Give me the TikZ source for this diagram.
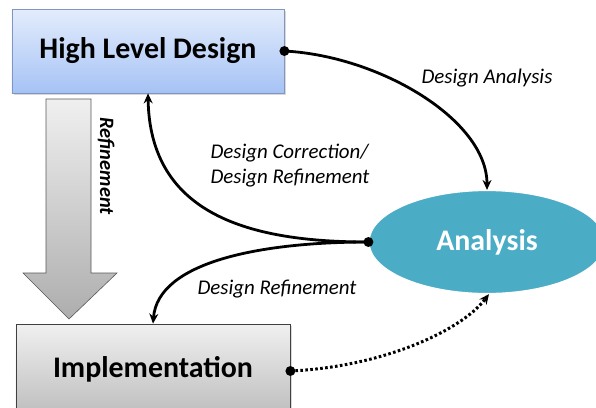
\documentclass[tikz,border=0pt]{standalone}
\usepackage{fontspec}
\setmainfont{Carlito}
\usetikzlibrary{arrows.meta,shadows,shapes.geometric}
\definecolor{hldtop}{HTML}{E3ECFC}
\definecolor{hldbot}{HTML}{A6C3F5}
\definecolor{hldborder}{HTML}{8096C0}
\definecolor{imptop}{HTML}{F0F0F0}
\definecolor{impbot}{HTML}{BEBEBE}
\definecolor{anafill}{HTML}{4BACC6}
\tikzset{
  boxnode/.style={draw, line width=0.8pt, font=\fontsize{30}{34}\selectfont\bfseries, align=center, drop shadow={opacity=0.3, shadow xshift=2pt, shadow yshift=-2pt}},
  conn/.style={line width=2.8pt, -{Stealth[length=10pt,width=9pt]}},
  dotconn/.style={line width=3pt, dash pattern=on 2.6pt off 2.4pt, -{Stealth[length=10pt,width=9pt]}},
  lbl/.style={font=\fontsize{21}{25}\selectfont\itshape, align=left},
  enddot/.style={circle, fill=black, inner sep=0pt, minimum size=10pt}
}
\begin{document}
\begin{tikzpicture}[x=1bp,y=-1bp]
\useasboundingbox (0,0) rectangle (596,407);
% big refinement arrow
\path[draw=gray!70!black, line width=0.6pt, top color=white!94!black, bottom color=white!68!black]
  (46,99) -- (91,99) -- (91,273) -- (117,273) -- (69,319) -- (23,273) -- (46,273) -- cycle;
\node[font=\fontsize{20.5}{24}\selectfont\itshape\bfseries, rotate=-90] (reftxt) at (106,166) {Refinement};
% boxes
\node[boxnode, draw=hldborder, top color=hldtop, bottom color=hldbot, minimum width=272bp, minimum height=84bp] (hld) at (148,51) {High Level Design};
\node[boxnode, draw=black!75, top color=imptop, bottom color=impbot, minimum width=274bp, minimum height=90bp] (impl) at (153,369) {Implementation};
\node[ellipse, draw=white, line width=1.2pt, fill=anafill, minimum width=236bp, minimum height=103bp, text=white, font=\fontsize{30}{34}\selectfont\bfseries] (ana) at (487,242) {Analysis};
% anchors
\coordinate (hldR) at (hld.east);
\coordinate (anaT) at (ana.north);
\coordinate (anaL) at (ana.west);
\coordinate (anaB) at ([xshift=2bp]ana.south);
\coordinate (hldB) at (hld.south);
\coordinate (implT) at (impl.north);
\coordinate (implR) at ([yshift=-2bp]impl.east);
% connectors
\draw[conn] (hldR) .. controls (380,56) and (487,120) .. (anaT);
\draw[conn] (anaL) .. controls (250,242) and (150,215) .. (hldB);
\draw[conn] (anaL) .. controls (260,242) and (158,262) .. (implT);
\draw[dotconn] (implR) .. controls (380,367) and (460,332) .. (anaB);
\node[enddot] (d1) at (hldR) {};
\node[enddot] (d2) at (anaL) {};
\node[enddot] (d3) at (implR) {};
% labels
\node[lbl] (l1) at (487,78) {Design Analysis};
\node[lbl, anchor=north west] (l2) at (207,141) {Design Correction/\\Design Refinement};
\node[lbl] (l3) at (277,289) {Design Refinement};
\end{tikzpicture}
\end{document}
